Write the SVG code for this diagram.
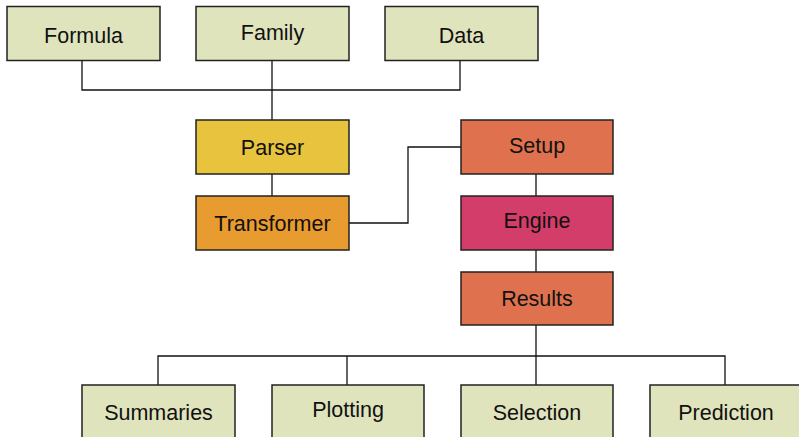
<svg xmlns="http://www.w3.org/2000/svg" width="799" height="437" viewBox="0 0 799 437">
  <style>
    .box { stroke: #222; stroke-width: 1.5; }
    .io { fill: #e0e4bd; }
    .parser { fill: #e8c43e; }
    .trans { fill: #e89b2e; }
    .step { fill: #e0714f; }
    .engine { fill: #d33d69; }
    text { font-family: "Liberation Sans", Arial, sans-serif; font-size: 21.5px; fill: #111; text-anchor: middle; }
    .wire { fill: none; stroke: #111; stroke-width: 1.3; }
  </style>
  <rect width="799" height="437" fill="#fff"/>

  <g id="connectors">
    <polyline class="wire" points="82,61 82,90 460,90 460,61"/>
    <line class="wire" x1="272" y1="61" x2="272" y2="120"/>
    <line class="wire" x1="272" y1="174" x2="272" y2="196"/>
    <polyline class="wire" points="349,223 408,223 408,147 461,147"/>
    <line class="wire" x1="536" y1="174" x2="536" y2="196"/>
    <line class="wire" x1="536" y1="250" x2="536" y2="272"/>
    <line class="wire" x1="536" y1="325" x2="536" y2="385"/>
    <polyline class="wire" points="158,385 158,356 725,356 725,385"/>
    <line class="wire" x1="347" y1="356" x2="347" y2="385"/>
  </g>

  <g id="formula">
    <rect class="box io" x="7" y="6.5" width="153" height="54"/>
    <text x="83.5" y="43">Formula</text>
  </g>
  <g id="family">
    <rect class="box io" x="196" y="6.5" width="153" height="54"/>
    <text x="272.5" y="40">Family</text>
  </g>
  <g id="data">
    <rect class="box io" x="385" y="6.5" width="153" height="54"/>
    <text x="461.5" y="43">Data</text>
  </g>

  <g id="parser">
    <rect class="box parser" x="196" y="120" width="153" height="54"/>
    <text x="272.5" y="155">Parser</text>
  </g>
  <g id="transformer">
    <rect class="box trans" x="196" y="196" width="153" height="54"/>
    <text x="272.5" y="231">Transformer</text>
  </g>

  <g id="setup">
    <rect class="box step" x="461" y="120" width="152" height="54"/>
    <text x="537" y="153">Setup</text>
  </g>
  <g id="engine">
    <rect class="box engine" x="461" y="196" width="152" height="54"/>
    <text x="537" y="228">Engine</text>
  </g>
  <g id="results">
    <rect class="box step" x="461" y="272" width="152" height="53"/>
    <text x="537" y="306">Results</text>
  </g>

  <g id="summaries">
    <rect class="box io" x="82" y="385" width="153" height="60"/>
    <text x="158.5" y="420">Summaries</text>
  </g>
  <g id="plotting">
    <rect class="box io" x="272" y="385" width="152" height="60"/>
    <text x="348" y="417">Plotting</text>
  </g>
  <g id="selection">
    <rect class="box io" x="461" y="385" width="152" height="60"/>
    <text x="537" y="420">Selection</text>
  </g>
  <g id="prediction">
    <rect class="box io" x="650" y="385" width="152" height="60"/>
    <text x="726" y="420">Prediction</text>
  </g>
</svg>
